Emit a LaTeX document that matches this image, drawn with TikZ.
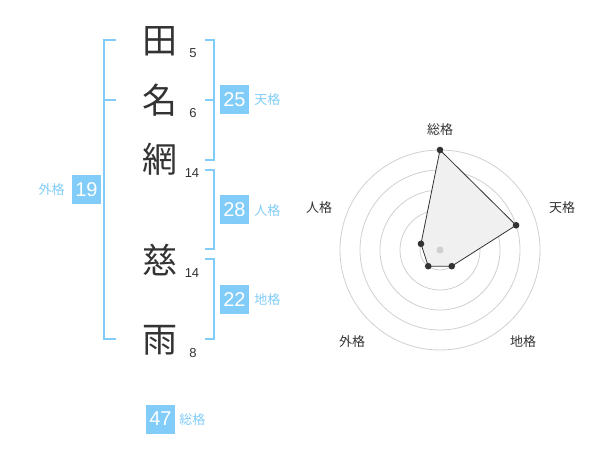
\documentclass[tikz,border=0pt]{standalone}
\usepackage{fontspec}
\setmainfont{Liberation Sans}
\newfontfamily\jp{Noto Sans CJK JP}
\usetikzlibrary{calc}
\definecolor{kblue}{RGB}{129,204,248}
\definecolor{kdark}{RGB}{51,51,51}
\definecolor{kgrid}{RGB}{208,208,208}
\definecolor{kfill}{RGB}{240,240,240}
\tikzset{
  kanji/.style={font=\jp\fontsize{35}{35}\selectfont, text=kdark, inner sep=0pt},
  strokes/.style={font=\fontsize{13}{13}\selectfont, text=kdark, inner sep=0pt},
  bracket/.style={draw=kblue, line width=2pt},
  numbox/.style={fill=kblue, text=white, minimum width=29pt, minimum height=29pt, inner sep=0pt, font=\fontsize{20}{20}\selectfont},
  kaku/.style={font=\jp\fontsize{13}{13}\selectfont, text=kblue, inner sep=0pt},
  grid/.style={draw=kgrid, line width=0.8pt},
  dot/.style={circle, fill=kdark, minimum size=6.6pt, inner sep=0pt},
  axlabel/.style={font=\jp\fontsize{13}{13}\selectfont, text=kdark, inner sep=0pt}
}
\begin{document}
\begin{tikzpicture}[x=1pt,y=-1pt]
\useasboundingbox (0,0) rectangle (600,470);
% kanji
\node[kanji] (k1) at (160,41) {田};
\node[kanji] (k2) at (160,100) {名};
\node[kanji] (k3) at (160,159) {網};
\node[kanji] (k4) at (160,260) {慈};
\node[kanji] (k5) at (160,340) {雨};
% stroke counts
\node[strokes] (s1) at (193,53) {5};
\node[strokes] (s2) at (193,113) {6};
\node[strokes] (s3) at (192,173) {14};
\node[strokes] (s4) at (192,273) {14};
\node[strokes] (s5) at (193,353) {8};
% brackets
\draw[bracket] (205,40) -- (214,40) -- (214,160) -- (205,160);
\draw[bracket] (205,100) -- (214,100);
\draw[bracket] (205,170) -- (214,170) -- (214,249) -- (205,249);
\draw[bracket] (205,259) -- (214,259) -- (214,339) -- (205,339);
\draw[bracket] (116,40) -- (104,40) -- (104,339) -- (116,339);
\draw[bracket] (104,100) -- (116,100);
% boxes
\node[numbox] (b25) at (234.5,100) {25};
\node[kaku, anchor=west] (l25) at ([xshift=5pt]b25.east) {天格};
\node[numbox] (b28) at (234.5,210) {28};
\node[kaku, anchor=west] (l28) at ([xshift=5pt,yshift=-1pt]b28.east) {人格};
\node[numbox] (b22) at (234.5,300) {22};
\node[kaku, anchor=west] (l22) at ([xshift=5pt]b22.east) {地格};
\node[numbox] (b19) at (86.5,190) {19};
\node[kaku, anchor=east] (l19) at ([xshift=-7pt]b19.west) {外格};
\node[numbox] (b47) at (160.5,419) {47};
\node[kaku, anchor=west] (l47) at ([xshift=4pt,yshift=-1pt]b47.east) {総格};
% radar
\coordinate (c) at (440,250);
\foreach \r in {20,40,60,80,100} \draw[grid] (c) circle (\r);
\coordinate (p1) at ($(c)+(-90:100)$);
\coordinate (p2) at ($(c)+(-18:80)$);
\coordinate (p3) at ($(c)+(54:20)$);
\coordinate (p4) at ($(c)+(126:20)$);
\coordinate (p5) at ($(c)+(-162:20)$);
\draw[kdark, line width=0.8pt, fill=kfill] (p1) -- (p2) -- (p3) -- (p4) -- (p5) -- cycle;
\node[circle, fill=kgrid, minimum size=7pt, inner sep=0pt] (cd) at (c) {};
\node[dot] (d1) at (p1) {};
\node[dot] (d2) at (p2) {};
\node[dot] (d3) at (p3) {};
\node[dot] (d4) at (p4) {};
\node[dot] (d5) at (p5) {};
\node[axlabel] (a1) at (440,130) {総格};
\node[axlabel] (a2) at (562,208) {天格};
\node[axlabel] (a3) at (523,342) {地格};
\node[axlabel] (a4) at (352,342) {外格};
\node[axlabel] (a5) at (319,208) {人格};
\end{tikzpicture}
\end{document}
